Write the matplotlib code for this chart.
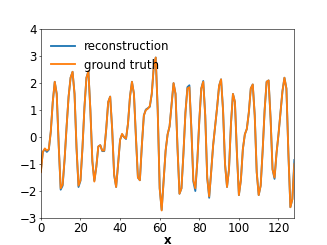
import matplotlib
matplotlib.use("Agg")
import matplotlib.pyplot as plt
import numpy as np

x = list(range(129))
ground_truth = [
    -1.3, -0.55, -0.42, -0.5, -0.45, 0.2, 1.3, 2.05, 1.6, -0.3,
    -1.9, -1.75, -0.8, 0.4, 1.5, 2.2, 2.42, 1.6, -0.4, -1.8,
    -1.6, -0.4, 1.1, 2.2, 2.44, 1.0, -0.9, -1.65, -1.1, -0.35,
    -0.3, -0.5, -0.5, 0.3, 1.3, 1.5, 0.3, -1.4, -1.85, -1.0,
    -0.1, 0.12, 0.0, -0.05, 0.5, 1.5, 2.05, 1.6, 0.0, -1.5,
    -1.6, -0.3, 0.8, 1.0, 1.05, 1.15, 1.6, 2.6, 2.95, 1.0,
    -1.9, -2.72, -1.6, -0.5, 0.1, 0.4, 1.2, 2.0, 1.6, -0.4,
    -2.1, -1.9, -0.6, 0.9, 1.8, 1.85, 0.3, -1.6, -1.9, -0.9,
    0.6, 1.8, 2.05, 0.8, -1.5, -2.2, -1.3, -0.3, 0.4, 1.1,
    1.9, 2.14, 1.0, -1.0, -1.85, -1.2, 0.5, 1.6, 1.3, -0.6,
    -2.15, -1.6, -0.45, 0.1, 0.3, 0.9, 1.8, 1.95, 0.8, -1.3,
    -2.15, -1.8, -0.5, 1.0, 2.05, 2.1, 0.7, -1.2, -1.5, -0.6,
    0.1, 0.9, 1.7, 2.2, 1.8, -0.6, -2.6, -2.3, -1.0,
]
reconstruction = [
    -1.25, -0.55, -0.45, -0.55, -0.47, 0.2, 1.3, 2.05, 1.6, -0.3,
    -1.95, -1.8, -0.8, 0.4, 1.5, 2.2, 2.42, 1.6, -0.4, -1.85,
    -1.62, -0.4, 1.1, 2.2, 2.44, 1.0, -0.9, -1.62, -1.1, -0.35,
    -0.3, -0.52, -0.52, 0.3, 1.3, 1.5, 0.3, -1.4, -1.85, -1.0,
    -0.1, 0.1, 0.0, -0.07, 0.5, 1.5, 2.05, 1.6, 0.0, -1.5,
    -1.6, -0.3, 0.8, 1.02, 1.07, 1.12, 1.6, 2.6, 2.95, 1.0,
    -1.9, -2.7, -1.6, -0.5, 0.1, 0.4, 1.2, 2.0, 1.6, -0.4,
    -2.1, -1.9, -0.6, 0.9, 1.85, 1.92, 0.3, -1.65, -2.0, -0.9,
    0.6, 1.8, 2.08, 0.8, -1.5, -2.25, -1.3, -0.3, 0.4, 1.1,
    1.9, 2.14, 1.0, -1.0, -1.85, -1.2, 0.5, 1.6, 1.3, -0.6,
    -2.15, -1.6, -0.45, 0.1, 0.3, 0.9, 1.8, 1.95, 0.8, -1.3,
    -2.15, -1.8, -0.5, 1.0, 2.05, 2.1, 0.7, -1.2, -1.55, -0.6,
    0.1, 0.9, 1.7, 2.2, 1.8, -0.6, -2.6, -2.3, -0.85,
]

plt.rcParams['font.size'] = 16.5
fig = plt.figure(figsize=(6.4, 4.8), dpi=51.1)
ax = fig.add_subplot(111)
ax.plot(x, reconstruction, color='#1f77b4', lw=2.6, label='reconstruction')
ax.plot(x, ground_truth, color='#ff7f0e', lw=2.6, label='ground truth')
ax.set_xlim(0, 128)
ax.set_ylim(-3, 4)
ax.set_xticks([0, 20, 40, 60, 80, 100, 120])
ax.set_yticks([-3, -2, -1, 0, 1, 2, 3, 4])
ax.tick_params(pad=2)
ax.set_xlabel('x', fontweight='bold', labelpad=-2)
ax.legend(loc='upper left', frameon=False)
fig.savefig('out.png', dpi=51.1)
